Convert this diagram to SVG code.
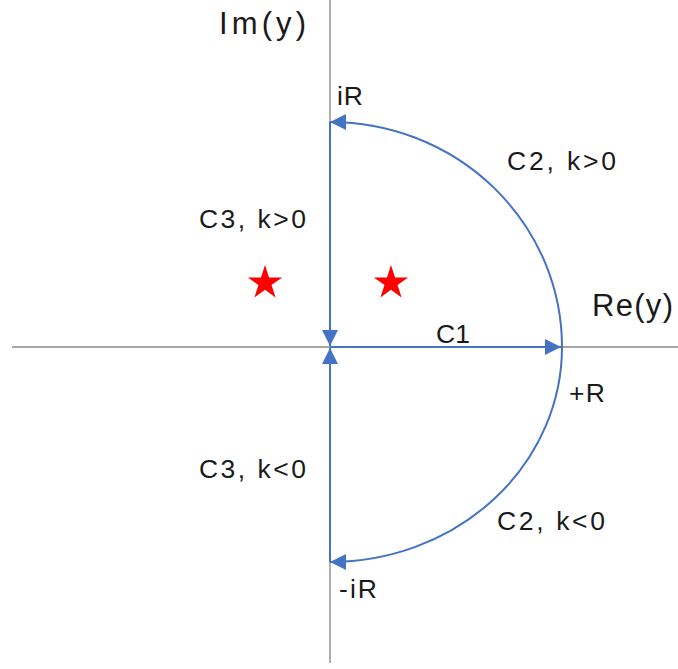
<svg xmlns="http://www.w3.org/2000/svg" width="678" height="669" viewBox="0 0 678 669">
<defs>
<style>
.axis{stroke:#a6a6a6;stroke-width:1.8;fill:none}
.path{stroke:#4472c4;stroke-width:2;fill:none}
.lbl{font-family:"Liberation Sans",Arial,sans-serif;font-size:26.5px;fill:#1a1a1a}
.big{font-size:31px}
.star{fill:#ff0000}
</style>
<marker id="ah" viewBox="0 0 16 16" refX="16" refY="8" markerWidth="16" markerHeight="16" markerUnits="userSpaceOnUse" orient="auto">
<path d="M0,0 L16,8 L0,16 z" fill="#4472c4"/>
</marker>
</defs>
<g id="axes">
<line class="axis" x1="330" y1="0" x2="330" y2="663"/>
<line class="axis" x1="12" y1="347" x2="678" y2="347"/>
</g>
<g id="connectors">
<path class="path" d="M330,122 L330,346" marker-end="url(#ah)"/>
<path class="path" d="M330,562 L330,348" marker-end="url(#ah)"/>
<path class="path" d="M330,347 L561,347" marker-end="url(#ah)"/>
<path class="path" d="M562,347 A232,225 0 0 0 330,122" marker-end="url(#ah)"/>
<path class="path" d="M562,347 A232,215 0 0 1 330,562" marker-end="url(#ah)"/>
</g>
<g id="stars">
<polygon class="star" transform="translate(265,283)" points="0,-18 4.04,-5.56 17.12,-5.56 6.54,2.12 10.58,14.56 0,6.87 -10.58,14.56 -6.54,2.12 -17.12,-5.56 -4.04,-5.56"/>
<polygon class="star" transform="translate(391,283)" points="0,-18 4.04,-5.56 17.12,-5.56 6.54,2.12 10.58,14.56 0,6.87 -10.58,14.56 -6.54,2.12 -17.12,-5.56 -4.04,-5.56"/>
</g>
<g id="labels">
<text class="lbl big" x="219" y="34" textLength="87" lengthAdjust="spacing">Im(y)</text>
<text class="lbl big" x="592" y="316" textLength="81" lengthAdjust="spacing">Re(y)</text>
<text class="lbl" x="337" y="105" textLength="26" lengthAdjust="spacing">iR</text>
<text class="lbl" x="507" y="170" textLength="109" lengthAdjust="spacing">C2, k&gt;0</text>
<text class="lbl" x="199" y="228" textLength="107" lengthAdjust="spacing">C3, k&gt;0</text>
<text class="lbl" x="436" y="343" textLength="34" lengthAdjust="spacing">C1</text>
<text class="lbl" x="569" y="402" textLength="36" lengthAdjust="spacing">+R</text>
<text class="lbl" x="199" y="478" textLength="107" lengthAdjust="spacing">C3, k&lt;0</text>
<text class="lbl" x="497" y="530" textLength="108" lengthAdjust="spacing">C2, k&lt;0</text>
<text class="lbl" x="339" y="598" textLength="38" lengthAdjust="spacing">-iR</text>
</g>
</svg>
